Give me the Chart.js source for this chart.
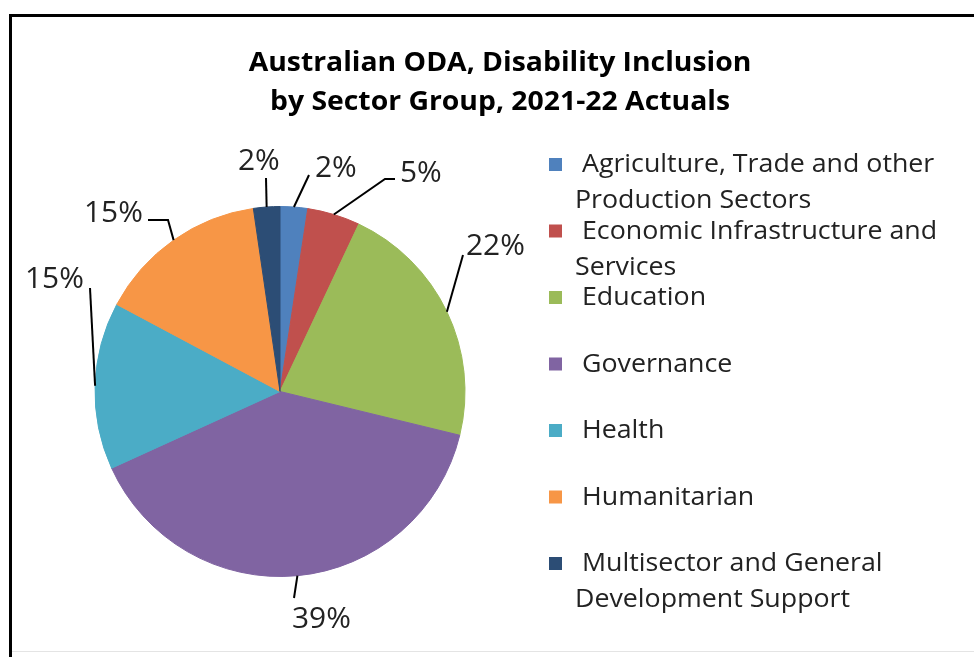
<!DOCTYPE html>
<html>
<head>
<meta charset="utf-8">
<title>Australian ODA, Disability Inclusion by Sector Group, 2021-22 Actuals</title>
<script src="https://cdn.jsdelivr.net/npm/chart.js@4.4.1/dist/chart.umd.min.js"></script>
<style>
  html, body { margin: 0; padding: 0; background: #fff; }
  #wrap { position: relative; width: 974px; height: 657px; }
</style>
</head>
<body>
<div id="wrap"><canvas id="oda-pie"></canvas></div>
<script>
// Sector groups, clockwise from 12 o'clock
const sectorLabels = [
    'Agriculture, Trade and other Production Sectors',
    'Economic Infrastructure and Services',
    'Education',
    'Governance',
    'Health',
    'Humanitarian',
    'Multisector and General Development Support'
];
// share of disability-inclusive ODA, per cent
const sectorShares = [2.4, 4.6, 21.8, 39.4, 14.6, 14.9, 2.3];
const sectorColours = ['#4F81BD', '#C0504D', '#9BBB59', '#8064A2', '#4BACC6', '#F79646', '#2C4D75'];
const titleLines = ['Australian ODA, Disability Inclusion', 'by Sector Group, 2021-22 Actuals'];

// percentage label spots (baseline-left of text) and leader bend points, leader ends on the slice edge
const labelSpots = [
    { x: 315, y: 177, leader: [[309, 175]] },
    { x: 400, y: 182, leader: [[395, 179], [385, 179]] },
    { x: 466, y: 255, leader: [[463, 255]] },
    { x: 292, y: 628, leader: [[294, 598]] },
    { x: 25,  y: 288, leader: [[90, 288]] },
    { x: 84,  y: 222, leader: [[148, 220], [168, 220]] },
    { x: 238, y: 170, leader: [[266, 178]] }
];

const labelFont = '29px "Open Sans"';
const legendFont = '25px "Open Sans"';
const titleFont = 'bold 26px "Open Sans"';

// text is drawn a little wider than the font's natural width
function drawText(ctx, text, x, y, stretch) {
    ctx.save();
    ctx.translate(x, y);
    ctx.scale(stretch, 1);
    ctx.fillText(text, 0, 0);
    ctx.restore();
}

// split a legend entry into lines that fit the space right of the pie
function wrapText(ctx, text, maxWidth) {
    const words = text.split(' ');
    const lines = [];
    let line = '';
    words.forEach(w => {
        const test = line ? line + ' ' + w : w;
        if (ctx.measureText(test).width > maxWidth && line) {
            lines.push(line);
            line = w;
        } else {
            line = test;
        }
    });
    if (line) lines.push(line);
    return lines;
}

// Frame, title, leader lines, percentages and legend
const decorations = {
    id: 'decorations',
    beforeDraw(chart) {
        const ctx = chart.ctx;
        ctx.save();
        ctx.fillStyle = '#fff';
        ctx.fillRect(0, 0, chart.width, chart.height);
        ctx.strokeStyle = '#000';
        ctx.lineWidth = 3;
        ctx.beginPath();
        ctx.moveTo(10.5, 657);
        ctx.lineTo(10.5, 15.5);
        ctx.lineTo(974, 15.5);
        ctx.stroke();
        ctx.strokeStyle = '#e4e4e4';
        ctx.lineWidth = 1;
        ctx.beginPath();
        ctx.moveTo(12, 651.5);
        ctx.lineTo(974, 651.5);
        ctx.stroke();
        ctx.restore();
    },
    afterDraw(chart) {
        const ctx = chart.ctx;
        ctx.save();

        // title, centred
        ctx.font = titleFont;
        ctx.fillStyle = '#000';
        ctx.textAlign = 'center';
        ctx.textBaseline = 'alphabetic';
        titleLines.forEach((t, i) => drawText(ctx, t, 500, 71 + i * 39, 1.09));

        // leader lines and percentages
        const meta = chart.getDatasetMeta(0);
        ctx.strokeStyle = '#000';
        ctx.lineWidth = 2;
        ctx.font = labelFont;
        ctx.fillStyle = '#222';
        ctx.textAlign = 'left';
        meta.data.forEach((arc, i) => {
            const spot = labelSpots[i];
            const mid = (arc.startAngle + arc.endAngle) / 2;
            const ex = arc.x + Math.cos(mid) * arc.outerRadius;
            const ey = arc.y + Math.sin(mid) * arc.outerRadius;
            ctx.beginPath();
            ctx.moveTo(spot.leader[0][0], spot.leader[0][1]);
            spot.leader.slice(1).forEach(p => ctx.lineTo(p[0], p[1]));
            ctx.lineTo(ex, ey);
            ctx.stroke();
            drawText(ctx, Math.round(sectorShares[i]) + '%', spot.x, spot.y, 1.03);
        });

        // legend
        ctx.font = legendFont;
        sectorLabels.forEach((label, i) => {
            const base = 172 + i * 66.5;
            ctx.fillStyle = sectorColours[i];
            ctx.fillRect(549, base - 14, 13, 13);
            ctx.fillStyle = '#222';
            const lines = wrapText(ctx, label, 340);
            lines.forEach((ln, j) => {
                drawText(ctx, ln, j === 0 ? 582 : 575, base + j * 36, 1.07);
            });
        });

        ctx.restore();
    }
};

const ctx = document.getElementById('oda-pie').getContext('2d');
new Chart(ctx, {
    type: 'pie',
    data: {
        labels: sectorLabels,
        datasets: [{
            data: sectorShares,
            backgroundColor: sectorColours,
            borderColor: sectorColours,
            borderWidth: 1
        }]
    },
    options: {
        responsive: true,
        maintainAspectRatio: false,
        animation: false,
        layout: {
            padding: { left: 93, top: 206, right: 507, bottom: 80 }
        },
        plugins: {
            legend: { display: false },
            tooltip: { enabled: false },
            title: { display: false }
        }
    },
    plugins: [decorations]
});
</script>
</body>
</html>
